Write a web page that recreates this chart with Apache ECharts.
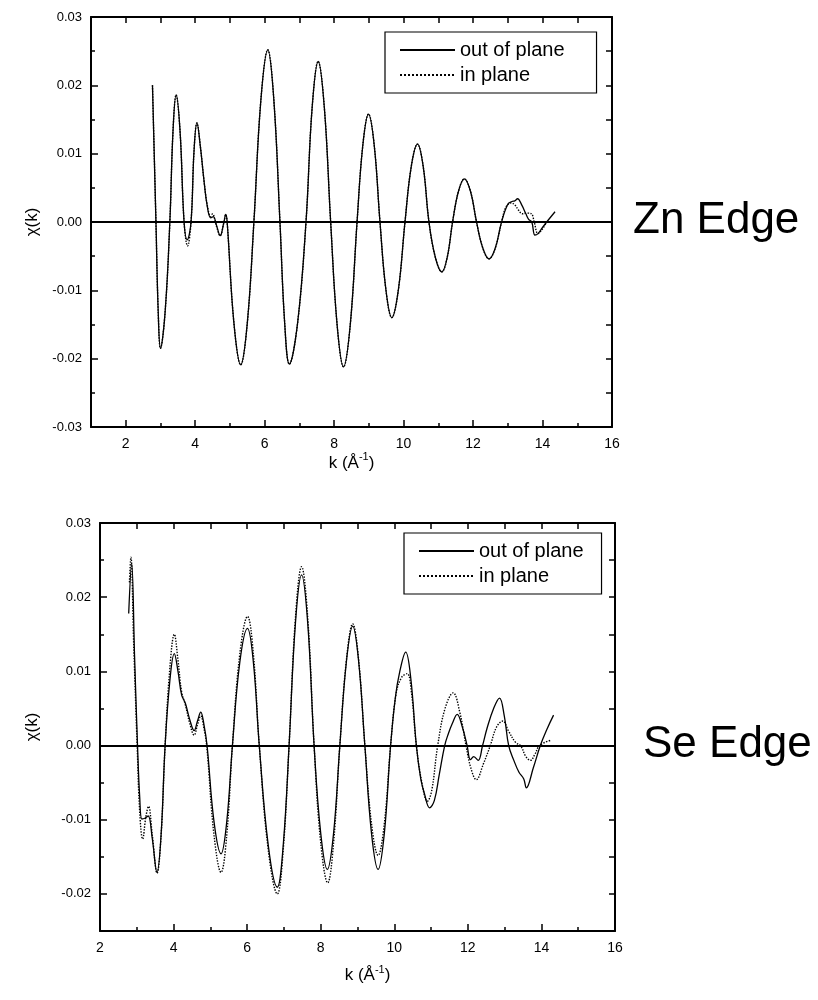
<!DOCTYPE html>
<html><head><meta charset="utf-8">
<script src="https://cdn.jsdelivr.net/npm/echarts@6/dist/echarts.min.js"></script>
<style>html,body{margin:0;padding:0;background:#fff}#c{width:818px;height:1000px}</style>
</head><body><div id="c"></div>
<script>
// ---------- Zn edge (top panel) ----------
const znOutK = [2.77,2.87,2.935,3.00,3.135,3.27,3.36,3.45,3.565,3.68,3.77,3.88,3.965,4.05,4.15,4.25,4.35,4.45,4.52,4.62,4.72,4.82,4.88,4.92,5.115,5.31,5.50,5.69,5.89,6.09,6.265,6.44,6.575,6.71,6.95,7.19,7.365,7.54,7.72,7.90,8.085,8.27,8.465,8.66,8.825,8.99,9.155,9.32,9.49,9.66,9.85,10.04,10.22,10.40,10.565,10.73,10.915,11.10,11.255,11.41,11.58,11.75,11.925,12.10,12.28,12.46,12.64,12.82,13.00,13.12,13.20,13.28,13.40,13.52,13.60,13.69,13.78,13.87,14.00,14.12,14.36];
const znOutChi = [0.0200,0,-0.0131,-0.0185,-0.0131,0,0.0132,0.0186,0.0132,0,-0.0026,0,0.0103,0.0145,0.0110,0.0062,0.0022,0.0006,0.0008,-0.0006,-0.0020,-0.0002,0.0011,0,-0.0148,-0.0209,-0.0148,0,0.0178,0.0252,0.0178,0,-0.0147,-0.0208,-0.0147,0,0.0166,0.0235,0.0166,0,-0.0150,-0.0212,-0.0150,0,0.0112,0.0158,0.0112,0,-0.0099,-0.0140,-0.0099,0,0.0081,0.0114,0.0081,0,-0.0052,-0.0073,-0.0052,0,0.0045,0.0063,0.0045,0,-0.0038,-0.0054,-0.0038,0,0.0026,0.0030,0.0031,0.0034,0.0025,0.0012,0.0004,0,-0.0019,-0.0017,-0.0008,0,0.0015];
const znInK = [2.77,2.87,2.935,3.00,3.135,3.27,3.36,3.45,3.565,3.68,3.78,3.88,3.965,4.05,4.15,4.25,4.35,4.45,4.50,4.60,4.72,4.82,4.88,4.92,5.115,5.31,5.50,5.69,5.89,6.09,6.265,6.44,6.575,6.71,6.95,7.19,7.365,7.54,7.72,7.90,8.085,8.27,8.465,8.66,8.825,8.99,9.155,9.32,9.49,9.66,9.85,10.04,10.22,10.40,10.565,10.73,10.915,11.10,11.255,11.41,11.58,11.75,11.925,12.10,12.28,12.46,12.64,12.82,12.95,13.10,13.20,13.30,13.42,13.55,13.68,13.76,13.87,14.00,14.15];
const znInChi = [0.0200,0,-0.0131,-0.0185,-0.0131,0,0.0132,0.0186,0.0132,0,-0.0035,0,0.0103,0.0145,0.0110,0.0062,0.0024,0.0008,0.0012,-0.0004,-0.0020,-0.0002,0.0011,0,-0.0148,-0.0209,-0.0148,0,0.0178,0.0252,0.0178,0,-0.0147,-0.0208,-0.0147,0,0.0166,0.0235,0.0166,0,-0.0150,-0.0212,-0.0150,0,0.0112,0.0158,0.0112,0,-0.0099,-0.0140,-0.0099,0,0.0081,0.0114,0.0081,0,-0.0052,-0.0073,-0.0052,0,0.0045,0.0063,0.0045,0,-0.0038,-0.0054,-0.0038,0,0.0022,0.0028,0.0025,0.0018,0.0012,0.0013,0.0012,0,-0.0017,-0.0010,0.0003];

// ---------- Se edge (bottom panel) ----------
const seOutK = [2.78,2.86,2.94,3.02,3.08,3.14,3.22,3.31,3.42,3.55,3.66,3.77,3.90,4.02,4.12,4.22,4.32,4.44,4.56,4.65,4.74,4.82,4.91,5.10,5.29,5.445,5.60,5.80,6.01,6.17,6.33,6.575,6.82,6.98,7.14,7.31,7.48,7.65,7.82,8.00,8.18,8.35,8.52,8.70,8.87,9.03,9.20,9.38,9.56,9.73,9.90,10.03,10.15,10.31,10.45,10.60,10.72,10.82,10.96,11.09,11.22,11.37,11.47,11.58,11.71,11.85,11.98,12.07,12.16,12.28,12.40,12.52,12.70,12.86,12.99,13.11,13.25,13.39,13.52,13.59,13.78,13.97,14.15,14.33];
const seOutChi = [0.0178,0.0246,0.0120,0,-0.0070,-0.0099,-0.0098,-0.0095,-0.0125,-0.0171,-0.0121,0,0.0088,0.0124,0.0100,0.0068,0.0057,0.0035,0.0020,0.0033,0.0045,0.0030,0,-0.0103,-0.0146,-0.0103,0,0.0112,0.0158,0.0112,0,-0.0135,-0.0191,-0.0135,0,0.0163,0.0230,0.0163,0,-0.0118,-0.0167,-0.0118,0,0.0114,0.0161,0.0114,0,-0.0118,-0.0167,-0.0118,0,0.0065,0.0100,0.0126,0.0090,0,-0.0045,-0.0065,-0.0084,-0.0074,-0.0040,0,0.0016,0.0030,0.0042,0.0025,0,-0.0019,-0.0015,-0.0020,0,0.0023,0.0050,0.0064,0.0040,0,-0.0020,-0.0036,-0.0045,-0.0057,-0.0030,0,0.0022,0.0041];
const seInK = [2.80,2.84,2.92,3.01,3.08,3.16,3.25,3.32,3.42,3.55,3.66,3.77,3.90,4.02,4.12,4.22,4.32,4.44,4.56,4.65,4.74,4.82,4.90,5.10,5.29,5.445,5.60,5.80,6.01,6.17,6.33,6.575,6.82,6.98,7.14,7.31,7.48,7.65,7.82,8.00,8.19,8.35,8.52,8.70,8.87,9.03,9.20,9.38,9.56,9.73,9.90,10.05,10.20,10.35,10.47,10.60,10.75,10.90,11.02,11.18,11.38,11.60,11.78,11.95,12.08,12.23,12.42,12.61,12.78,12.95,13.10,13.30,13.43,13.58,13.70,13.82,13.95,14.25];
const seInChi = [0.0220,0.0254,0.0130,0,-0.0090,-0.0126,-0.0095,-0.0082,-0.0120,-0.0172,-0.0122,0,0.0105,0.0150,0.0115,0.0072,0.0055,0.0030,0.0014,0.0028,0.0040,0.0025,0,-0.0121,-0.0171,-0.0121,0,0.0123,0.0174,0.0123,0,-0.0141,-0.0200,-0.0141,0,0.0170,0.0241,0.0170,0,-0.0131,-0.0185,-0.0131,0,0.0116,0.0164,0.0116,0,-0.0105,-0.0148,-0.0105,0,0.0070,0.0092,0.0097,0.0070,0,-0.0050,-0.0075,-0.0060,0,0.0050,0.0071,0.0045,0,-0.0030,-0.0046,-0.0025,0,0.0025,0.0033,0.0020,0.0004,0,-0.0015,-0.0020,-0.0012,0,0.0007];

// ---------- ticks ----------
const znXMajor = [2,4,6,8,10,12,14,16];
const znXMinor = [3,5,7,9,11,13,15];
const znXTop = [2,3,4,5,6,7,8,9,10,11,12,13,14,15];
const znYMajor = [-0.03,-0.02,-0.01,0,0.01,0.02,0.03];
const znYMinor = [-0.025,-0.015,-0.005,0.005,0.015,0.025];
const seXMajor = [4,6,8,10,12,14];
const seXLabels = [2,4,6,8,10,12,14,16];
const seXMinor = [3,5,7,9,11,13,15];
const seXTop = [3,4,5,6,7,8,9,10,11,12,13,14,15];
const seYMajor = [-0.02,-0.01,0,0.01,0.02,0.03];
const seYMinor = [-0.025,-0.015,-0.005,0.005,0.015,0.025];

const names = ['out of plane','in plane'];
const FONT = 'Liberation Sans, Arial, Helvetica, sans-serif';
const zip = (a,b) => a.map((v,i) => [v,b[i]]);
const lineC = {color:'#000', width:2};
const tickC = {color:'#000', width:1.5};

function xAxesFor(g, min, max, major, labels, minor, top, gap, shift) {
  return [
    {type:'value', gridIndex:g, min, max, position:'bottom',
     axisLine:{show:true, onZero:false, lineStyle:lineC},
     axisTick:{show:true, inside:true, length:7, customValues:major, lineStyle:tickC},
     axisLabel:{show:true, customValues:labels, color:'#000', fontSize:14, margin:10, fontFamily:FONT},
     splitLine:{show:false},
     name:'{a|k (Å}{s|-1}{a|)}', nameLocation:'middle', nameGap:gap,
     nameTextStyle:{padding:[0,0,0,shift],
                    rich:{a:{fontSize:17, color:'#000', fontFamily:FONT, lineHeight:22},
                          s:{fontSize:11, color:'#000', fontFamily:FONT, verticalAlign:'top', lineHeight:22}}}},
    {type:'value', gridIndex:g, min, max, position:'bottom',
     axisLine:{show:false, onZero:false},
     axisTick:{show:true, inside:true, length:4, customValues:minor, lineStyle:tickC},
     axisLabel:{show:false}, splitLine:{show:false}},
    {type:'value', gridIndex:g, min, max, position:'top',
     axisLine:{show:true, onZero:false, lineStyle:lineC},
     axisTick:{show:true, inside:true, length:6, customValues:top, lineStyle:tickC},
     axisLabel:{show:false}, splitLine:{show:false}}
  ];
}
function yAxesFor(g, min, max, major, minor, gap) {
  return [
    {type:'value', gridIndex:g, min, max, position:'left',
     axisLine:{show:true, onZero:false, lineStyle:lineC},
     axisTick:{show:true, inside:true, length:7, customValues:major, lineStyle:tickC},
     axisLabel:{show:true, customValues:major, color:'#000', fontSize:13, margin:9, fontFamily:FONT,
                formatter:v => v.toFixed(2)},
     splitLine:{show:false},
     name:'χ(k)', nameLocation:'middle', nameGap:gap, nameRotate:90,
     nameTextStyle:{fontSize:17, color:'#000', fontFamily:FONT}},
    {type:'value', gridIndex:g, min, max, position:'left',
     axisLine:{show:false, onZero:false},
     axisTick:{show:true, inside:true, length:4, customValues:minor, lineStyle:tickC},
     axisLabel:{show:false}, splitLine:{show:false}},
    {type:'value', gridIndex:g, min, max, position:'right',
     axisLine:{show:true, onZero:false, lineStyle:lineC},
     axisTick:{show:true, inside:true, length:6, customValues:major.concat(minor), lineStyle:tickC},
     axisLabel:{show:false}, splitLine:{show:false}}
  ];
}
function seriesFor(xi, yi, outData, inData) {
  return [
    {type:'line', name:names[1], xAxisIndex:xi, yAxisIndex:yi, data:inData, symbol:'none', smooth:0.4,
     lineStyle:{color:'#000', width:1.4, type:'dotted'}, itemStyle:{color:'#000'}, z:2},
    {type:'line', name:names[0], xAxisIndex:xi, yAxisIndex:yi, data:outData, symbol:'none', smooth:0.4,
     lineStyle:{color:'#000', width:1.3, type:'solid'}, itemStyle:{color:'#000'}, z:3,
     markLine:{silent:true, symbol:['none','none'], label:{show:false},
               lineStyle:{color:'#000', width:2, type:'solid'}, data:[{yAxis:0}]}}
  ];
}
function legendFor(left, top, padRight) {
  return {left, top, orient:'vertical', data:names, selectedMode:false,
    borderColor:'#000', borderWidth:1.2, padding:[8,padRight,8,14], itemGap:5,
    itemWidth:55, itemHeight:14, itemStyle:{opacity:0},
    textStyle:{fontSize:20, color:'#000', fontFamily:FONT}};
}

const chart = echarts.init(document.getElementById('c'), null, {renderer:'canvas'});
chart.setOption({
  animation:false,
  backgroundColor:'#fff',
  grid:[{left:91, top:17, width:521, height:410},
        {left:100, top:523, width:515, height:408}],
  xAxis:[...xAxesFor(0,1,16,znXMajor,znXMajor,znXMinor,znXTop,24,0),
         ...xAxesFor(1,2,16,seXMajor,seXLabels,seXMinor,seXTop,33,20)],
  yAxis:[...yAxesFor(0,-0.03,0.03,znYMajor,znYMinor,50),
         ...yAxesFor(1,-0.025,0.03,seYMajor,seYMinor,59)],
  legend:[legendFor(385,32,32), legendFor(404,533,18)],
  series:[...seriesFor(0,0,zip(znOutK,znOutChi),zip(znInK,znInChi)),
          ...seriesFor(3,3,zip(seOutK,seOutChi),zip(seInK,seInChi))],
  graphic:[
    {type:'text', left:633, top:199, style:{text:'Zn Edge', fontSize:44, fill:'#000', fontFamily:FONT}},
    {type:'text', left:643, top:723, style:{text:'Se Edge', fontSize:44, fill:'#000', fontFamily:FONT}}
  ]
});
</script></body></html>
